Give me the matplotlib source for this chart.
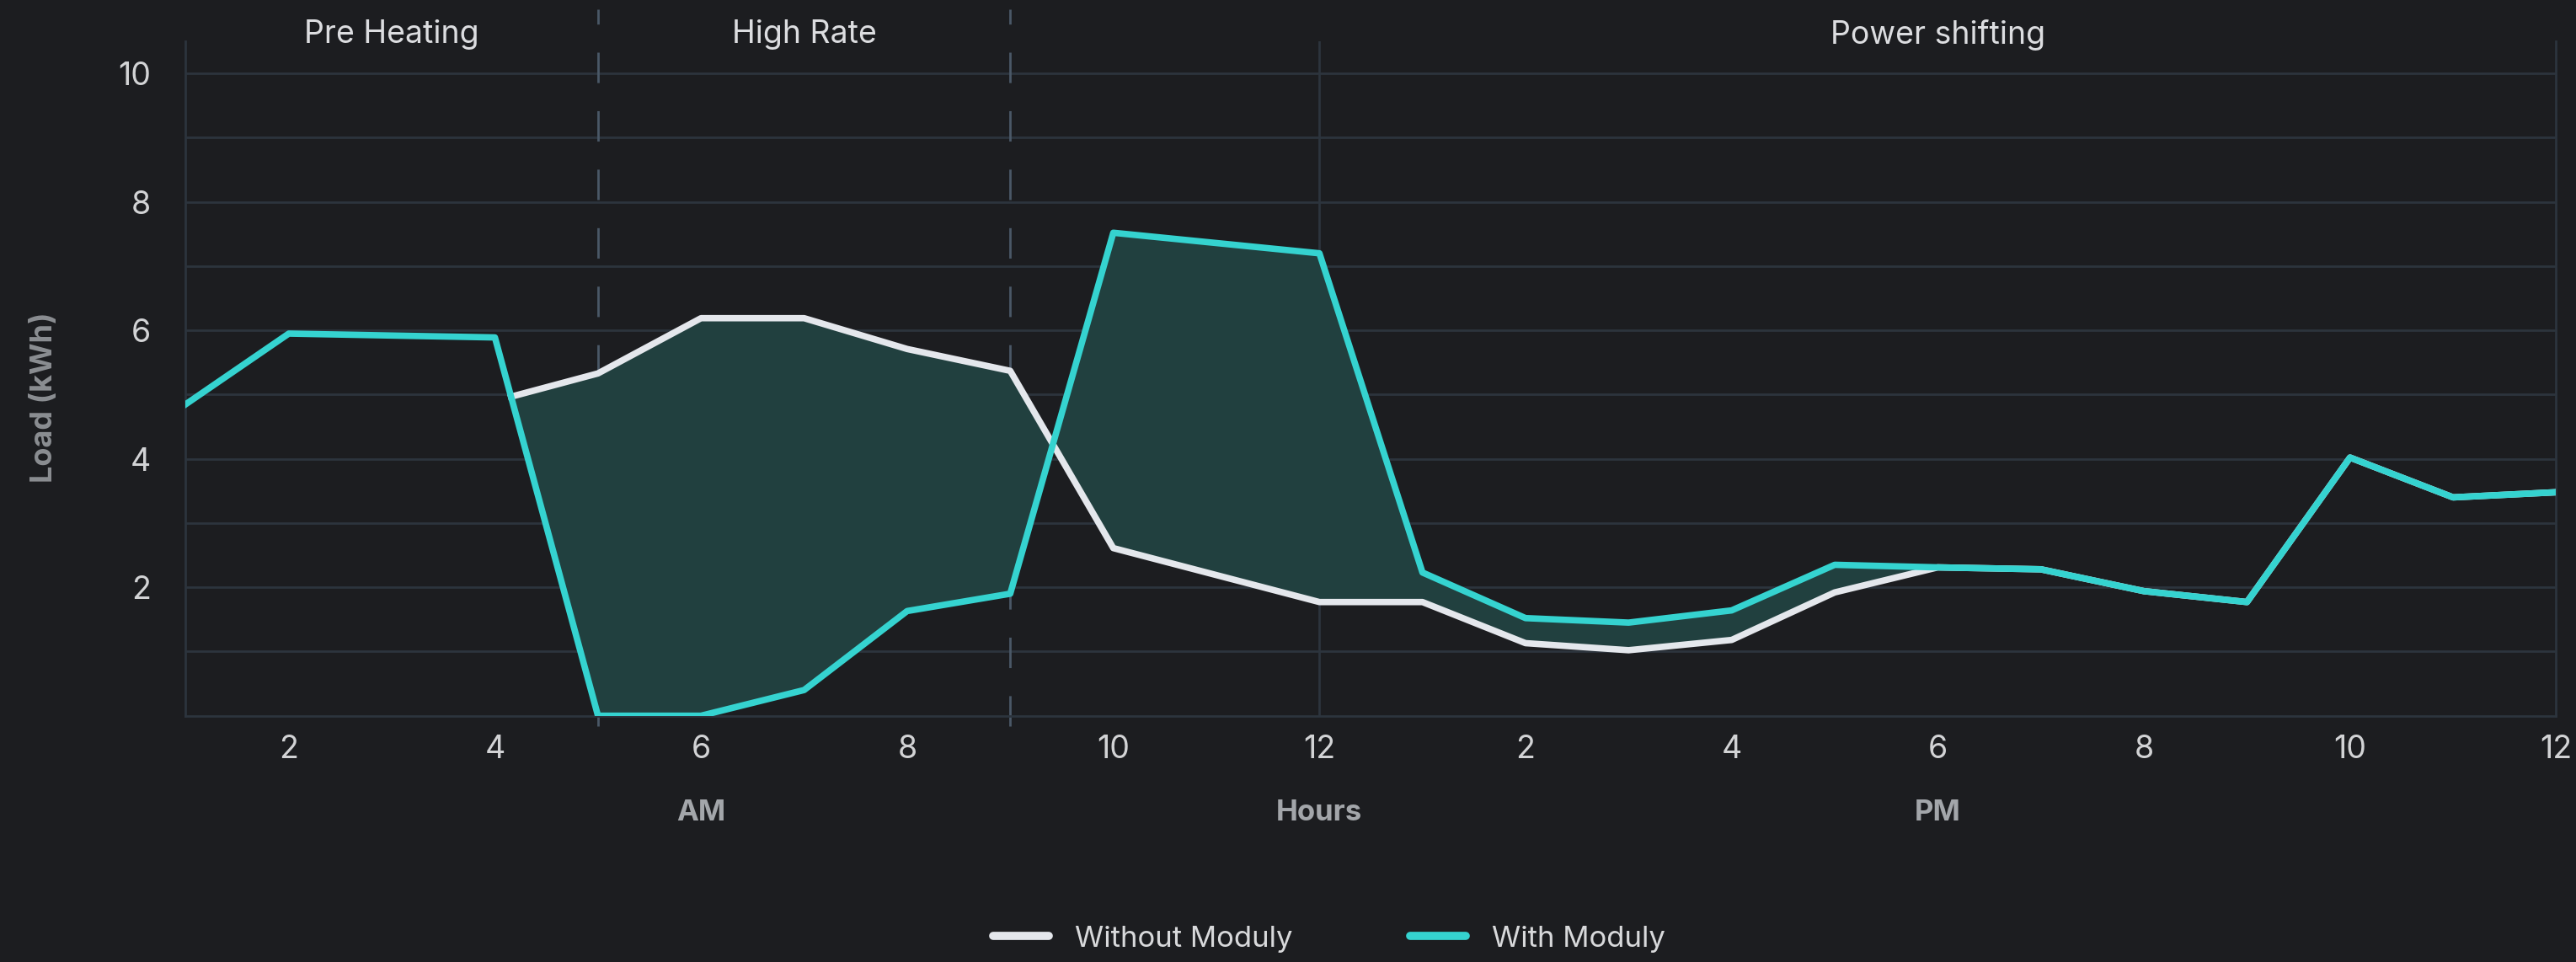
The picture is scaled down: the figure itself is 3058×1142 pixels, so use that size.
import numpy as np
import matplotlib.pyplot as plt
from matplotlib.lines import Line2D
from matplotlib.transforms import blended_transform_factory

plt.rcParams['font.family'] = ['Inter', 'DejaVu Sans']

# hourly load (kWh), hour 1 .. 24
hours = np.arange(1, 25)
with_moduly = [4.85, 5.95, 5.92, 5.89, 0.0, 0.0, 0.4, 1.63, 1.9, 7.52, 7.36, 7.2,
               2.23, 1.52, 1.45, 1.64, 2.35, 2.31, 2.28, 1.94, 1.77, 4.02, 3.4, 3.48]
# hours 1-3 not shown, from 18 on it follows the teal line
without_moduly = [np.nan, np.nan, np.nan, 4.9, 5.33, 6.19, 6.19, 5.71, 5.37, 2.61, 2.19, 1.77,
                  1.77, 1.13, 1.02, 1.18, 1.92, 2.31, 2.28, 1.94, 1.77, 4.02, 3.4, 3.48]

tick_hours = [2, 4, 6, 8, 10, 12, 14, 16, 18, 20, 22, 24]
tick_labels = ['2', '4', '6', '8', '10', '12', '2', '4', '6', '8', '10', '12']

phases = ['Pre Heating', 'High Rate', 'Power shifting']
phase_centers = [3, 7, 18]
phase_bounds = [5, 9]

bg = '#1c1d20'
grid_c = '#2c343d'
teal = '#35d3d0'
white = '#e4e7ec'

fig = plt.figure(figsize=(30.58, 11.42), dpi=100, facecolor=bg)
ax = fig.add_axes([0.0721, 0.256, 0.9202, 0.701])
ax.set_facecolor(bg)

w = np.array(without_moduly, dtype=float)
t = np.array(with_moduly, dtype=float)

# the white line starts where it crosses the teal one between hour 4 and 5
d0 = w[3] - t[3]
d1 = w[4] - t[4]
frac = d0 / (d0 - d1)
x_start = hours[3] + frac
y_start = w[3] + frac * (w[4] - w[3])
wx = np.concatenate([[x_start], hours[4:]])
wy = np.concatenate([[y_start], w[4:]])
ty = np.concatenate([[y_start], t[4:]])

ax.fill_between(wx, wy, ty, color='#21403f', zorder=2, linewidth=0)
ax.plot(wx, wy, color=white, lw=5.5, zorder=3, solid_joinstyle='round')
ax.plot(hours, t, color=teal, lw=5.5, zorder=4, solid_joinstyle='round')

ax.set_xlim(1, 24)
ax.set_ylim(0, 10.5)
ax.set_xticks(tick_hours)
ax.set_xticklabels(tick_labels)
ax.set_yticks([2, 4, 6, 8, 10])
ax.set_yticks([1, 3, 5, 7, 9], minor=True)
ax.grid(axis='y', which='both', color=grid_c, lw=2)
ax.set_axisbelow(True)
ax.tick_params(which='both', length=0, colors='#d2d3d5', labelsize=27)
ax.tick_params(axis='x', pad=16)
ax.tick_params(axis='y', pad=30)

for s in ['left', 'bottom', 'right']:
    ax.spines[s].set_color(grid_c)
    ax.spines[s].set_linewidth(2)
ax.spines['top'].set_visible(False)

ax.axvline(12, color=grid_c, lw=2, zorder=1)
for b in phase_bounds:
    ax.axvline(b, ymin=-0.015, ymax=1.048, color='#4a5867', lw=2, clip_on=False,
               linestyle=(0, (13, 12)), zorder=1)

for name, c in zip(phases, phase_centers):
    ax.text(c, 1.01, name, transform=ax.get_xaxis_transform(), ha='center',
            va='center', fontsize=27, color='#dcdde0')

fig.text(0.0172, 0.587, 'Load (kWh)', rotation=90, ha='center', va='center',
         fontsize=26, fontweight='bold', color='#8b8e92')

mixed = blended_transform_factory(ax.transData, fig.transFigure)
for label, h in zip(['AM', 'Hours', 'PM'], [6, 12, 18]):
    ax.text(h, 0.155, label, transform=mixed, ha='center', va='center',
            fontsize=25, fontweight='bold', color='#a3a6aa')

handles = [Line2D([], [], color=white, lw=7, solid_capstyle='round'),
           Line2D([], [], color=teal, lw=7, solid_capstyle='round')]
fig.legend(handles, ['Without Moduly', 'With Moduly'], loc='center',
           bbox_to_anchor=(0.516, 0.024), ncol=2, frameon=False, fontsize=25,
           labelcolor='#d8d9db', handlelength=1.9, handletextpad=0.9, columnspacing=4.0)

fig.savefig('out.png', dpi=100, facecolor=bg)
